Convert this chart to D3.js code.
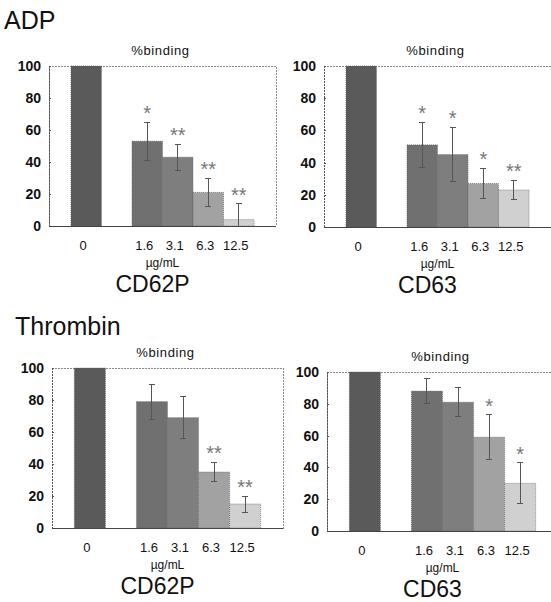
<!DOCTYPE html>
<html>
<head>
<meta charset="UTF-8">
<style>
  body { margin: 0; background: #fff; }
  svg text { font-family: Arial, "Liberation Sans", helvetica, sans-serif; fill: #111; }
  .axis path, .axis line { fill: none; stroke: #555; shape-rendering: crispEdges; }
  .axis text { font-size: 14px; font-weight: bold; fill: #111; }
  .frame { fill: none; stroke: #888; stroke-dasharray: 2,1; shape-rendering: crispEdges; }
  .err { stroke: #555; stroke-width: 1; shape-rendering: crispEdges; }
  .star { font-size: 20px; fill: #777; text-anchor: middle; }
  .dose { font-size: 13px; text-anchor: middle; }
</style>
<script src="https://d3js.org/d3.v7.min.js"></script>
</head>
<body>
<svg width="551" height="602"></svg>
<script>
// data (% binding, mean and error)
var doses = ['0', '1.6', '3.1', '6.3', '12.5'];
var yTicks = [0, 20, 40, 60, 80, 100];

var adpCD62P = [100, 53, 43, 21, 4];
var adpCD62PErr = [0, 12, 8, 9, 10];
var adpCD62PSig = ['', '*', '**', '**', '**'];

var adpCD63 = [100, 51, 45, 27, 23];
var adpCD63Err = [0, 14, 17, 9.5, 6];
var adpCD63Sig = ['', '*', '*', '*', '**'];

var thrCD62P = [100, 79, 69, 35, 15];
var thrCD62PErr = [0, 11, 13, 6, 5];
var thrCD62PSig = ['', '', '', '**', '**'];

var thrCD63 = [100, 88, 81, 59, 30];
var thrCD63Err = [0, 8, 9, 14, 13];
var thrCD63Sig = ['', '', '', '*', '*'];

var barColor = ['#5a5a5a', '#707070', '#7e7e7e', '#a2a2a2', '#d0d0d0'];

var svg = d3.select('svg');

// group titles
svg.append('text').attr('x', 4).attr('y', 29).style('font-size', '25px').text('ADP');
svg.append('text').attr('x', 15).attr('y', 335).style('font-size', '25px').text('Thrombin');

var panels = [
  { name: 'CD62P', vals: adpCD62P, err: adpCD62PErr, sig: adpCD62PSig, left: 49, top: 66, w: 227, h: 160 },
  { name: 'CD63', vals: adpCD63, err: adpCD63Err, sig: adpCD63Sig, left: 324, top: 66, w: 227, h: 161 },
  { name: 'CD62P', vals: thrCD62P, err: thrCD62PErr, sig: thrCD62PSig, left: 52, top: 368, w: 231, h: 160 },
  { name: 'CD63', vals: thrCD63, err: thrCD63Err, sig: thrCD63Sig, left: 327, top: 372, w: 231, h: 159 }
];

panels.forEach(function(p) {
  var g = svg.append('g').attr('transform', 'translate(' + p.left + ',' + p.top + ')');

  // one empty slot between the control and the doses
  var slots = [doses[0], ' '].concat(doses.slice(1));
  var x = d3.scaleBand().domain(slots).range([0, p.w]).paddingInner(0).paddingOuter(0.72);
  var y = d3.scaleLinear().domain([0, 100]).range([p.h, 0]);

  g.append('rect').attr('class', 'frame')
    .attr('x', 0).attr('y', 0).attr('width', p.w).attr('height', p.h);

  var rows = doses.map(function(d, i) {
    return { dose: d, v: p.vals[i], e: p.err[i], s: p.sig[i], i: i };
  });

  g.selectAll('.bar').data(rows).enter().append('rect')
    .attr('class', 'bar')
    .attr('x', function(d) { return x(d.dose); })
    .attr('y', function(d) { return y(d.v); })
    .attr('width', x.bandwidth())
    .attr('height', function(d) { return y(0) - y(d.v); })
    .style('fill', function(d) { return barColor[d.i]; })
    .style('stroke', '#555')
    .style('stroke-width', 0.6)
    .style('stroke-dasharray', '1,1');

  var eb = g.selectAll('.eb').data(rows.filter(function(d) { return d.e > 0; })).enter()
    .append('g').attr('class', 'eb')
    .attr('transform', function(d) { return 'translate(' + (x(d.dose) + x.bandwidth() / 2) + ',0)'; });
  eb.append('line').attr('class', 'err')
    .attr('y1', function(d) { return y(d.v + d.e); })
    .attr('y2', function(d) { return y(Math.max(0, d.v - d.e)); });
  eb.append('line').attr('class', 'err')
    .attr('x1', -3).attr('x2', 3)
    .attr('y1', function(d) { return y(d.v + d.e); })
    .attr('y2', function(d) { return y(d.v + d.e); });
  eb.append('line').attr('class', 'err')
    .attr('x1', -3).attr('x2', 3)
    .attr('y1', function(d) { return y(Math.max(0, d.v - d.e)); })
    .attr('y2', function(d) { return y(Math.max(0, d.v - d.e)); });

  eb.append('text').attr('class', 'star')
    .attr('y', function(d) { return y(d.v + d.e) - 2; })
    .text(function(d) { return d.s; });

  g.append('g').attr('class', 'axis')
    .call(d3.axisLeft(y).tickValues(yTicks).tickSize(-2).tickPadding(8).tickFormat(d3.format('d')))
    .call(function(a) { a.select('.domain').attr('d', 'M0,0V' + p.h).style('stroke-dasharray', '2,1'); });

  g.append('line')
    .attr('x1', 0).attr('x2', p.w).attr('y1', p.h).attr('y2', p.h)
    .style('stroke', '#444').style('shape-rendering', 'crispEdges');

  g.selectAll('.dose').data(doses).enter().append('text')
    .attr('class', 'dose')
    .attr('x', function(d) { return x(d) + x.bandwidth() / 2 - 3; })
    .attr('y', p.h + 24)
    .text(function(d) { return d; });

  g.append('text')
    .attr('x', p.w / 2).attr('y', p.h + 41)
    .attr('text-anchor', 'middle').style('font-size', '12px')
    .text('\u00b5g/mL');

  g.append('text')
    .attr('x', p.w / 2 - 10).attr('y', p.h + 66)
    .attr('text-anchor', 'middle').style('font-size', '23px')
    .text(p.name);

  g.append('text')
    .attr('x', p.w / 2 - 2).attr('y', -11)
    .attr('text-anchor', 'middle').style('font-size', '13px')
    .style('letter-spacing', '0.6px')
    .text('%binding');
});
</script>
</body>
</html>
